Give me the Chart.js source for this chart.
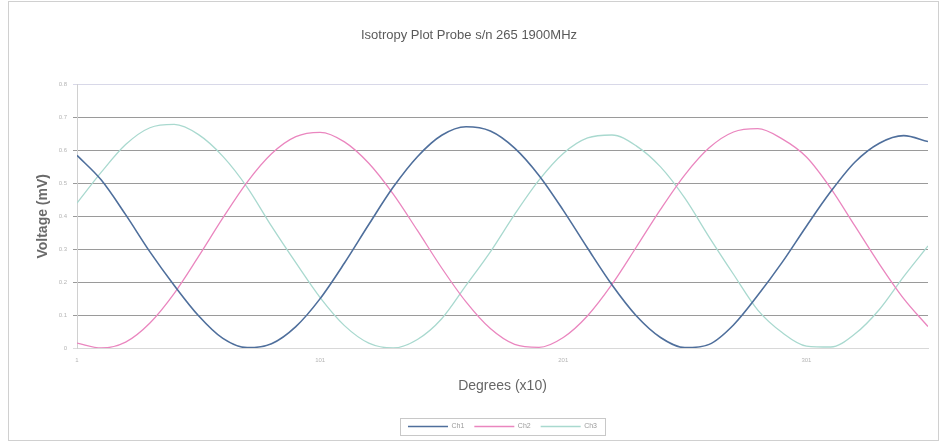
<!DOCTYPE html>
<html lang="en">
<head>
    <meta charset="UTF-8">
    <title>Isotropy Plot Probe s/n 265 1900MHz</title>
    <script src="https://cdn.jsdelivr.net/npm/chart.js@4.4.1/dist/chart.umd.min.js"></script>
    <style>
        html, body { margin: 0; padding: 0; background: #fff; }
        #wrap { width: 945px; height: 443px; }
    </style>
</head>
<body>
    <div id="wrap"><canvas id="myChart" width="945" height="443"></canvas></div>

    <script>
        // rotation angle samples (every 10 steps)
        const degrees = [1, 11, 21, 31, 41, 51, 61, 71, 81, 91, 101, 111, 121, 131, 141, 151, 161, 171,
                         181, 191, 201, 211, 221, 231, 241, 251, 261, 271, 281, 291, 301, 311, 321, 331, 341, 351];

        const ch1 = [0.585, 0.51, 0.405, 0.292, 0.19, 0.098, 0.029, 0.001, 0.013, 0.065, 0.15, 0.258,
                     0.375, 0.488, 0.581, 0.646, 0.672, 0.659, 0.607, 0.524, 0.418, 0.303, 0.192, 0.098,
                     0.032, 0.001, 0.011, 0.07, 0.16, 0.26, 0.37, 0.475, 0.565, 0.622, 0.645, 0.627];

        const ch2 = [0.015, 0.0, 0.018, 0.076, 0.166, 0.278, 0.395, 0.504, 0.59, 0.642, 0.655, 0.626,
                     0.561, 0.468, 0.357, 0.243, 0.14, 0.059, 0.011, 0.002, 0.032, 0.098, 0.193, 0.306,
                     0.421, 0.526, 0.608, 0.656, 0.666, 0.635, 0.58, 0.485, 0.37, 0.255, 0.15, 0.065];

        const ch3 = [0.44, 0.534, 0.618, 0.669, 0.679, 0.648, 0.582, 0.488, 0.37, 0.259, 0.153, 0.068,
                     0.015, 0.0, 0.026, 0.089, 0.19, 0.292, 0.406, 0.51, 0.591, 0.638, 0.647, 0.614,
                     0.55, 0.455, 0.337, 0.224, 0.115, 0.047, 0.006, 0.003, 0.043, 0.117, 0.217, 0.31];

        const xTicks = [1, 101, 201, 301];
        const seriesNames = ['Ch1', 'Ch2', 'Ch3'];

        const toPoints = arr => arr.map((v, i) => ({ x: degrees[i], y: v }));

        // thin frame round the chart and a box round the legend
        const framePlugin = {
            id: 'frame',
            beforeDraw(chart) {
                const ctx = chart.ctx;
                ctx.save();
                ctx.fillStyle = '#fff';
                ctx.fillRect(0, 0, chart.width, chart.height);
                ctx.strokeStyle = '#d0d0d0';
                ctx.lineWidth = 1;
                ctx.strokeRect(8.5, 1.5, 930, 439);
                ctx.restore();
            },
            afterDraw(chart) {
                const boxes = chart.legend && chart.legend.legendHitBoxes;
                if (!boxes || !boxes.length) return;
                let l = Infinity, r = -Infinity, t = Infinity, b = -Infinity;
                boxes.forEach(h => {
                    l = Math.min(l, h.left); r = Math.max(r, h.left + h.width);
                    t = Math.min(t, h.top); b = Math.max(b, h.top + h.height);
                });
                const ctx = chart.ctx;
                ctx.save();
                ctx.strokeStyle = '#c8c8c8';
                ctx.lineWidth = 1;
                ctx.strokeRect(Math.round(l - 8) + 0.5, Math.round(t - 5) + 0.5, Math.round(r - l + 16), Math.round(b - t + 10));
                ctx.restore();
            }
        };

        const ctx = document.getElementById('myChart').getContext('2d');
        new Chart(ctx, {
            type: 'line',
            data: {
                datasets: [{
                    label: seriesNames[0],
                    data: toPoints(ch1),
                    borderColor: '#4f6f9c',
                    borderWidth: 1.6
                }, {
                    label: seriesNames[1],
                    data: toPoints(ch2),
                    borderColor: '#ea86bf',
                    borderWidth: 1.3
                }, {
                    label: seriesNames[2],
                    data: toPoints(ch3),
                    borderColor: '#a9d9cf',
                    borderWidth: 1.3
                }]
            },
            options: {
                responsive: false,
                animation: false,
                devicePixelRatio: 1,
                layout: { padding: { left: 10, right: 17, top: 0, bottom: 3 } },
                elements: {
                    point: { radius: 0 },
                    line: { cubicInterpolationMode: 'monotone', fill: false }
                },
                plugins: {
                    title: {
                        display: true,
                        text: 'Isotropy Plot Probe s/n 265 1900MHz',
                        color: '#5a5a5a',
                        font: { family: 'Liberation Sans, Arial, sans-serif', size: 13, weight: 'normal' },
                        padding: { top: 28, bottom: 41 }
                    },
                    legend: {
                        position: 'bottom',
                        fullSize: false,
                        labels: {
                            usePointStyle: true,
                            pointStyle: 'line',
                            pointStyleWidth: 40,
                            boxHeight: 7,
                            padding: 10,
                            color: '#9a9a9a',
                            font: { family: 'Liberation Sans, Arial, sans-serif', size: 7 }
                        }
                    },
                    tooltip: { enabled: false }
                },
                scales: {
                    x: {
                        type: 'linear',
                        min: 1,
                        max: 351,
                        afterFit(scale) { scale.height = 65; },
                        afterBuildTicks(scale) { scale.ticks = xTicks.map(v => ({ value: v })); },
                        grid: { display: false, drawTicks: true, tickLength: 3 },
                        border: { display: true, color: '#d8d8d8' },
                        ticks: {
                            color: '#b5b5b5',
                            padding: 6,
                            maxRotation: 0,
                            font: { family: 'Liberation Sans, Arial, sans-serif', size: 6 }
                        },
                        title: {
                            display: true,
                            text: 'Degrees (x10)',
                            color: '#666',
                            font: { family: 'Liberation Sans, Arial, sans-serif', size: 14 },
                            padding: { top: 4, bottom: 18 }
                        }
                    },
                    y: {
                        min: 0,
                        max: 0.8,
                        afterFit(scale) { scale.width = 67; },
                        grid: {
                            color: ctx => (ctx.tick && ctx.tick.value >= 0.79) ? '#d8d8e8' :
                                          (ctx.tick && ctx.tick.value === 0) ? '#dcdcdc' : '#9a9a9a',
                            lineWidth: 1,
                            tickLength: 4
                        },
                        border: { display: true, color: '#d0d0d0' },
                        ticks: {
                            stepSize: 0.1,
                            color: '#b5b5b5',
                            padding: 6,
                            font: { family: 'Liberation Sans, Arial, sans-serif', size: 6 },
                            callback: v => (Math.round(v * 10) / 10).toString()
                        },
                        title: {
                            display: true,
                            text: 'Voltage (mV)',
                            color: '#6a6a6a',
                            font: { family: 'Liberation Sans, Arial, sans-serif', size: 14, weight: 'bold' },
                            padding: { top: 25, bottom: 0 }
                        }
                    }
                }
            },
            plugins: [framePlugin]
        });
    </script>
</body>
</html>
